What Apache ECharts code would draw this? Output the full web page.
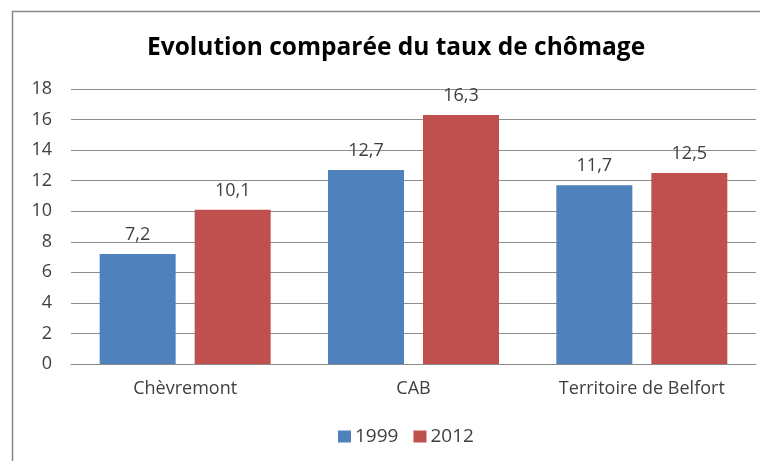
<!DOCTYPE html>
<html><head><meta charset="utf-8">
<script src="https://cdn.jsdelivr.net/npm/echarts@6/dist/echarts.min.js"></script>
<style>html,body{margin:0;padding:0;background:#fff}#c{width:760px;height:461px}</style>
</head><body><div id="c"></div>
<script>
const categories = ['Chèvremont', 'CAB', 'Territoire de Belfort'];
const series1999 = [7.2, 12.7, 11.7];
const series2012 = [10.1, 16.3, 12.5];
const seriesNames = ['1999', '2012'];
const font = 'Open Sans';
const chart = echarts.init(document.getElementById('c'));
const lbl = {show: true, position: 'top', distance: 10, color: '#404040', fontFamily: font, fontSize: 18,
  formatter: p => String(p.value).replace('.', ',')};
chart.setOption({
  animation: false,
  graphic: [{type: 'rect', shape: {x: 12.5, y: 11.5, width: 800, height: 500}, style: {fill: null, stroke: '#868686', lineWidth: 1.5}, silent: true}],
  title: {text: 'Evolution comparée du taux de chômage', left: 142, top: 31,
    textStyle: {fontFamily: font, fontWeight: 'bold', fontSize: 24.5, color: '#000'}},
  legend: {data: seriesNames, bottom: 10, left: 333, itemWidth: 13, itemHeight: 12, itemGap: 15, icon: 'rect',
    textStyle: {fontFamily: font, fontSize: 19, color: '#404040', padding: [0, 0, 0, -1]}},
  grid: {left: 71, right: 4, top: 89, bottom: 97, containLabel: false},
  xAxis: {type: 'category', data: categories, axisTick: {show: false},
    axisLine: {lineStyle: {color: '#8c8c8c', width: 1}},
    axisLabel: {fontFamily: font, fontSize: 18, color: '#404040', margin: 16}},
  yAxis: {type: 'value', min: 0, max: 18, interval: 2, axisLine: {show: false}, axisTick: {show: false},
    splitLine: {lineStyle: {color: '#8c8c8c', width: 1}},
    axisLabel: {fontFamily: font, fontSize: 18, color: '#404040', margin: 19}},
  series: [
    {name: seriesNames[0], type: 'bar', data: series1999, barWidth: 76, barGap: '25%', itemStyle: {color: '#4F81BD'}, label: lbl},
    {name: seriesNames[1], type: 'bar', data: series2012, barWidth: 76, barGap: '25%', itemStyle: {color: '#C0504D'}, label: lbl}
  ]
});
</script></body></html>
